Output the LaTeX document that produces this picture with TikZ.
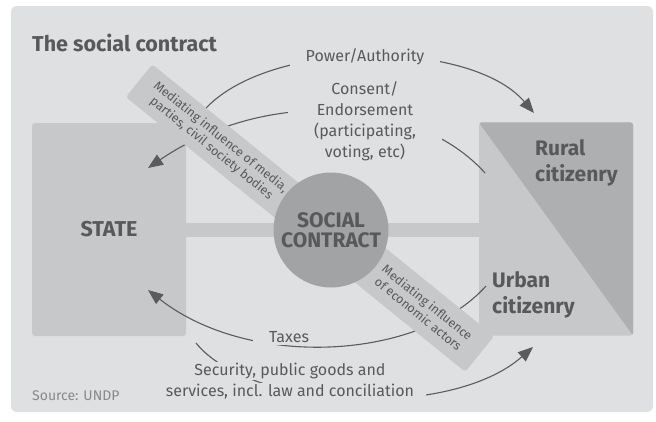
\documentclass[tikz,border=0pt]{standalone}
\usepackage{fontspec}
\setmainfont{Fira Sans}
\usetikzlibrary{arrows.meta}
\definecolor{bgc}{HTML}{DFE0E2}
\definecolor{boxc}{HTML}{C7C8CA}
\definecolor{darkc}{HTML}{AEAFB1}
\definecolor{circc}{HTML}{A2A3A5}
\definecolor{txtc}{HTML}{58595B}
\definecolor{srcc}{HTML}{86888A}
\definecolor{linec}{HTML}{5A5B5D}
\tikzset{
  bigbox/.style={fill=boxc, rounded corners=3pt, minimum width=154pt, minimum height=213pt, inner sep=0pt},
  medbox/.style={fill=boxc, rounded corners=3pt, inner sep=0pt, align=center, text=txtc,
     font=\fontsize{12.5}{14.5}\selectfont},
  flow/.style={draw=linec, line width=1.1pt, -{Triangle[length=15pt,width=12pt]}},
  lbl/.style={fill=bgc, inner ysep=2pt, align=center, text=txtc, font=\fontsize{16}{21}\selectfont},
  boldlbl/.style={inner sep=0pt, text=txtc, font=\bfseries\fontsize{21}{26}\selectfont},
}
\begin{document}
\begin{tikzpicture}[x=1pt,y=-1pt]
\useasboundingbox (0,0) rectangle (656,421);
\fill[white] (0,0) rectangle (656,421);
\fill[bgc, rounded corners=6pt] (11,6) rectangle (653,412);

\node[anchor=base west, inner sep=0pt, text=txtc, font=\bfseries\fontsize{21.5}{24}\selectfont] (title) at (32,51) {The social contract};
\node[anchor=base west, inner sep=0pt, text=srcc, font=\fontsize{14}{16}\selectfont] (source) at (32,400) {Source: UNDP};

% boxes
\node[bigbox, font=\bfseries\fontsize{21.5}{24}\selectfont, text=txtc] (state) at (109,229.5) {STATE};
\node[bigbox] (citizens) at (556,229) {};
\begin{scope}
  \clip[rounded corners=3pt] (citizens.north west) rectangle (citizens.south east);
  \fill[darkc] (citizens.north west) -- (citizens.north east) -- (citizens.south east) -- cycle;
\end{scope}
\node[fill=boxc, minimum width=293pt, minimum height=14pt, inner sep=0pt] (bar) at (332.5,230) {};

% flows
\coordinate (pw0) at (200,115);
\coordinate (pw1) at (534,113);
\coordinate (cs0) at (485,173);
\coordinate (cs1) at (148,168);
\coordinate (tx0) at (486,286);
\coordinate (tx1) at (148,290);
\coordinate (sc0) at (196,343);
\coordinate (sc1) at (533,347);
\draw[flow] (pw0) .. controls (260,38) and (470,38) .. (pw1);
\draw[flow] (cs0) .. controls (420,100) and (270,85) .. (cs1);
\draw[flow] (tx0) .. controls (420,360) and (250,370) .. (tx1);
\draw[flow] (sc0) .. controls (250,410) and (450,420) .. (sc1);

% mediating boxes
\node[medbox, minimum width=198pt, minimum height=42pt, rotate=-39] (med1) at (216,143)
  {Mediating influence of media,\\parties, civil society bodies};
\node[medbox, minimum width=146pt, minimum height=46pt, rotate=-39] (med2) at (423,308)
  {Mediating influence\\of economic actors};

% circle
\node[circle, fill=circc, minimum size=115pt, inner sep=0pt, align=center, text=txtc,
  font=\bfseries\fontsize{21}{20}\selectfont] (sc) at (331,230) {SOCIAL\\CONTRACT};

% labels
\node[lbl, inner xsep=16pt] (power) at (365,57) {Power/Authority};
\node[lbl, inner xsep=26pt] (consent) at (365,121.5) {Consent/\\Endorsement\\(participating,\\voting, etc)};
\node[lbl, inner xsep=16pt] (taxes) at (289,337) {Taxes};
\node[lbl, inner xsep=3pt, inner ysep=1pt] (security1) at (290,371) {Security, public goods and};
\node[lbl, inner xsep=12pt, inner ysep=1pt] (security2) at (290,392) {services, incl. law and conciliation};

\node[boldlbl, anchor=west, align=left] (rural) at (535,163) {Rural\\citizenry};
\node[boldlbl, anchor=west, align=left] (urban) at (492,295) {Urban\\citizenry};
\end{tikzpicture}
\end{document}
